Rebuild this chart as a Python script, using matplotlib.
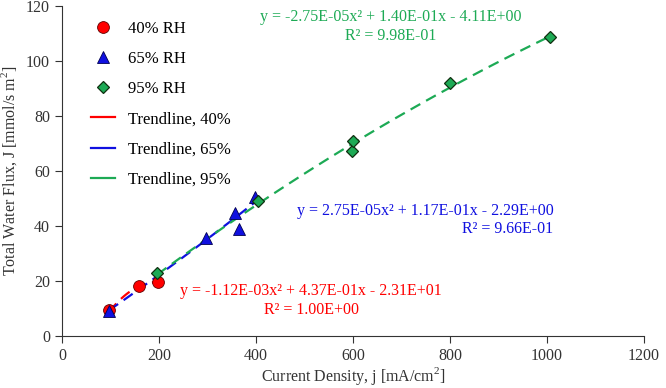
import numpy as np
import matplotlib
matplotlib.use("Agg")
import matplotlib.pyplot as plt
from matplotlib.lines import Line2D

plt.rcParams['font.family'] = ['Liberation Serif', 'DejaVu Serif']
plt.rcParams['mathtext.fontset'] = 'custom'
plt.rcParams['mathtext.rm'] = 'Liberation Serif'

# measured points
x40 = [97, 158, 199]
y40 = [9.5, 18.2, 19.5]
x65 = [97, 297, 357, 366, 399]
y65 = [9.0, 35.7, 44.6, 38.8, 50.5]
x95 = [197, 405, 598, 600, 801, 1006]
y95 = [22.8, 49.0, 67.4, 71.0, 92.1, 108.5]

# trendline coefficients (a, b, c) and ranges
c40 = [-1.12e-03, 4.37e-01, -2.31e+01]
c65 = [2.75e-05, 1.17e-01, -2.29e+00]
c95 = [-2.75e-05, 1.40e-01, -4.11e+00]
r40 = (97, 199)
r65 = (97, 399)
r95 = (197, 1006)

red = '#FF0000'
blue = '#1010E0'
green = '#1DAA55'

fig = plt.figure(figsize=(6.66, 3.88), dpi=100)
ax = fig.add_axes([0.093, 0.134, 0.874, 0.851])

fs = 11.5
dash = (5, 3)

trend_handles = []
for c, r, col, lab in [(c40, r40, red, 'Trendline, 40%'),
                       (c65, r65, blue, 'Trendline, 65%'),
                       (c95, r95, green, 'Trendline, 95%')]:
    xs = np.linspace(r[0], r[1], 100)
    ax.plot(xs, np.polyval(c, xs), color=col, lw=1.6, dashes=dash, zorder=2)
    trend_handles.append(Line2D([], [], color=col, lw=1.6, label=lab))

h1, = ax.plot(x40, y40, 'o', ms=8.5, mfc=red, mec='#600000', mew=0.6, ls='none', label='40% RH', zorder=3)
h2, = ax.plot(x65, y65, '^', ms=8.5, mfc=blue, mec='#000050', mew=0.6, ls='none', label='65% RH', zorder=3)
h3, = ax.plot(x95, y95, 'D', ms=6, mfc=green, mec='#103010', mew=0.9, ls='none', label='95% RH', zorder=4)

hs = [h1, h2, h3] + trend_handles
ax.legend(hs, [h.get_label() for h in hs],
          loc='upper left', bbox_to_anchor=(0.025, 1.0), frameon=False,
          fontsize=12, labelspacing=0.85, handlelength=1.4, handletextpad=0.8)

ax.text(678, 112.5, 'y = -2.75E-05x² + 1.40E-01x - 4.11E+00\nR² = 9.98E-01',
        color=green, fontsize=fs, ha='center', va='center', multialignment='center')
ax.text(1013, 42.2, 'y = 2.75E-05x² + 1.17E-01x - 2.29E+00\nR² = 9.66E-01',
        color=blue, fontsize=fs, ha='right', va='center', multialignment='right')
ax.text(514, 12.9, 'y = -1.12E-03x² + 4.37E-01x - 2.31E+01\nR² = 1.00E+00',
        color=red, fontsize=fs, ha='center', va='center', multialignment='center')

ax.set_xlim(0, 1200)
ax.set_ylim(0, 120)
ax.set_xticks(np.arange(0, 1201, 200))
ax.set_yticks(np.arange(0, 121, 20))
ax.spines['top'].set_visible(False)
ax.spines['right'].set_visible(False)
ax.tick_params(direction='out', labelsize=fs, length=5, colors='#333333')
for s in ['left', 'bottom']:
    ax.spines[s].set_color('#333333')
ax.set_xlabel('Current Density, j [mA/cm$^2$]', fontsize=fs, color='#333333', labelpad=1)
ax.set_ylabel('Total Water Flux, J [mmol/s m$^2$]', fontsize=fs, color='#333333', labelpad=5)

fig.savefig('out.png', dpi=100)
